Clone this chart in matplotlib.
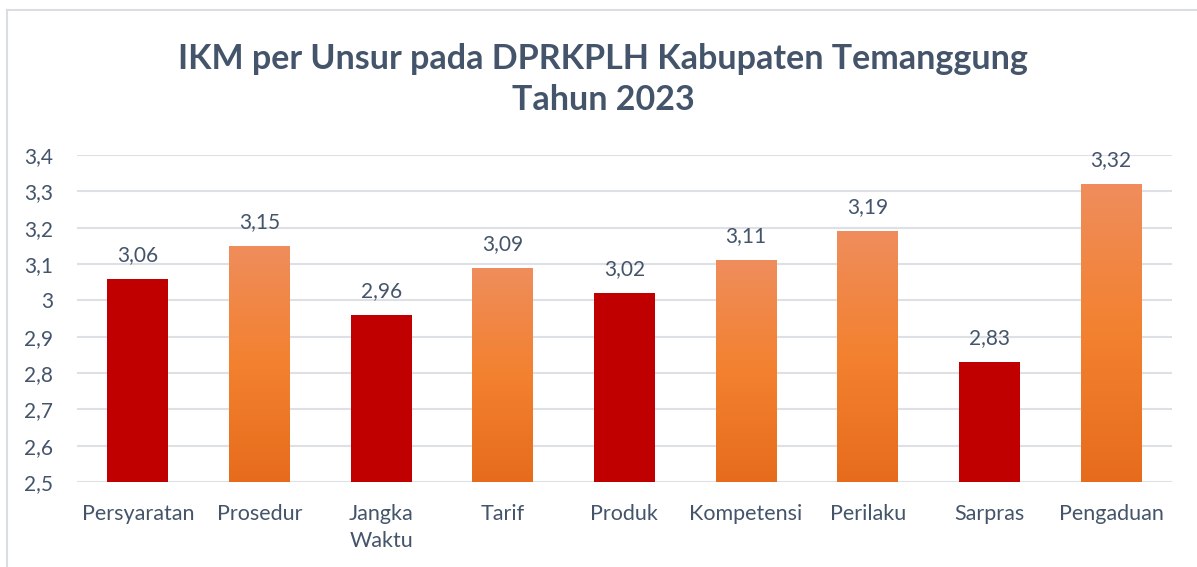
import matplotlib
matplotlib.use("Agg")
import matplotlib.pyplot as plt
import numpy as np
from matplotlib.colors import LinearSegmentedColormap
from matplotlib.lines import Line2D

# data
categories = ["Persyaratan", "Prosedur", "Jangka\nWaktu", "Tarif", "Produk",
              "Kompetensi", "Perilaku", "Sarpras", "Pengaduan"]
values = [3.06, 3.15, 2.96, 3.09, 3.02, 3.11, 3.19, 2.83, 3.32]
yticks = [2.5, 2.6, 2.7, 2.8, 2.9, 3.0, 3.1, 3.2, 3.3, 3.4]
title_lines = ["IKM per Unsur pada DPRKPLH Kabupaten Temanggung", "Tahun 2023"]

text_col = "#44546A"
grid_col = "#DDE1E6"
red = "#C00000"
orange_grad = LinearSegmentedColormap.from_list(
    "og", ["#E66C1C", "#F3812F", "#EF8D5C"])

plt.rcParams["font.family"] = ["Lato", "DejaVu Sans"]

fig = plt.figure(figsize=(11.97, 5.67), dpi=100)
ax = fig.add_axes([0.0643, 0.150, 0.9147, 0.5766])

x = np.arange(len(categories))
bars = ax.bar(x, [v - 2.5 for v in values], bottom=2.5, width=0.5, zorder=2)

grad = np.linspace(0, 1, 256).reshape(-1, 1)
for i, (b, v) in enumerate(zip(bars, values)):
    if v < 3.05 or i == 0:
        b.set_facecolor(red)
    else:
        b.set_facecolor("none")
        im = ax.imshow(grad, cmap=orange_grad, aspect="auto", origin="lower",
                       extent=[b.get_x(), b.get_x() + b.get_width(), 2.5, v],
                       zorder=2)
        im.set_clip_path(b)
    ax.annotate(f"{v:.2f}".replace(".", ","), (i, v), xytext=(0, 10),
                textcoords="offset points", ha="center", va="bottom",
                fontsize=15, color=text_col, annotation_clip=False)

ax.set_xlim(-0.5, len(categories) - 0.5)
ax.set_ylim(2.5, 3.4)
ax.set_yticks(yticks)
ax.set_yticklabels([f"{t:g}".replace(".", ",") for t in yticks])
ax.set_xticks(x)
ax.set_xticklabels(categories, linespacing=1.4)
ax.tick_params(axis="y", length=0, pad=17, labelsize=15, labelcolor=text_col)
ax.tick_params(axis="x", length=0, pad=16, labelsize=15.5, labelcolor=text_col)
ax.yaxis.grid(True, color=grid_col, linewidth=1.5, zorder=0)
ax.set_axisbelow(True)
for s in ax.spines.values():
    s.set_visible(False)

for j, line in enumerate(title_lines):
    fig.text(0.504, 1 - (59 + 41 * j) / 567, line, ha="center", va="center",
             fontsize=24.5, fontweight="bold", color=text_col)

# chart frame (only left and top edges visible)
fig.add_artist(Line2D([7 / 1197, 7 / 1197], [0, 1 - 10 / 567],
                      color="#D9DEE5", linewidth=1.5))
fig.add_artist(Line2D([7 / 1197, 1], [1 - 10 / 567, 1 - 10 / 567],
                      color="#D9DEE5", linewidth=1.5))

fig.savefig("out.png", dpi=100)
